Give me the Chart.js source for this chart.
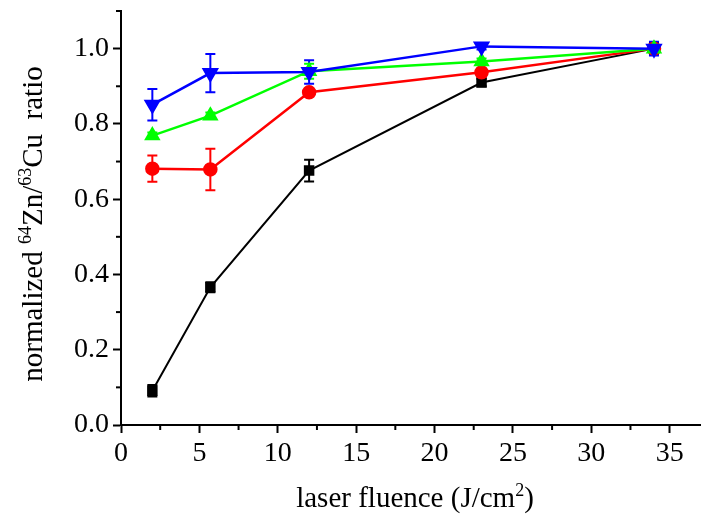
<!DOCTYPE html>
<html>
<head>
<meta charset="utf-8">
<script src="https://cdn.jsdelivr.net/npm/chart.js@4/dist/chart.umd.min.js"></script>
<style>
    html, body { margin: 0; padding: 0; background: #fff; }
    canvas { display: block; }
</style>
</head>
<body>
<canvas id="fluenceChart" width="701" height="521"></canvas>
<script>
// laser fluence (J/cm2)
const fluence = [2, 5.7, 12, 23, 34];

// normalized 64Zn/63Cu ratio, four series
const blackSeries = [0.091, 0.366, 0.676, 0.910, 1.0];
const blackErr = [0.015, 0.013, 0.029, 0.010, 0.015];
const redSeries = [0.681, 0.679, 0.884, 0.937, 1.0];
const redErr = [0.035, 0.055, 0.008, 0.008, 0.012];
const greenSeries = [0.769, 0.822, 0.940, 0.966, 1.0];
const greenErr = [0.008, 0.008, 0.020, 0.008, 0.012];
const blueSeries = [0.851, 0.935, 0.938, 1.006, 1.0];
const blueErr = [0.042, 0.051, 0.031, 0.008, 0.018];

const xTicks = [0, 5, 10, 15, 20, 25, 30, 35];
const yTicks = [0.0, 0.2, 0.4, 0.6, 0.8, 1.0];

const FONT = '"Liberation Serif", "Times New Roman", serif';
Chart.defaults.font.family = FONT;
Chart.defaults.font.size = 28;
Chart.defaults.color = '#000';

function toPoints(values) {
    return fluence.map((x, i) => ({ x: x, y: values[i] }));
}

function isMajorX(v) {
    return xTicks.some(t => Math.abs(t - v) < 1e-6);
}
function isMajorY(v) {
    return yTicks.some(t => Math.abs(t - v) < 1e-6);
}

// error bars, drawn under the markers
const errorBars = {
    id: 'errorBars',
    beforeDatasetsDraw(chart) {
        const ctx = chart.ctx;
        const xs = chart.scales.x, ys = chart.scales.y;
        chart.data.datasets.forEach(ds => {
            if (!ds.errors) return;
            ctx.save();
            ctx.strokeStyle = ds.borderColor;
            ctx.lineWidth = 2;
            ds.data.forEach((p, i) => {
                const e = ds.errors[i];
                const px = xs.getPixelForValue(p.x);
                const top = ys.getPixelForValue(p.y + e);
                const bot = ys.getPixelForValue(p.y - e);
                ctx.beginPath();
                ctx.moveTo(px, top); ctx.lineTo(px, bot);
                ctx.moveTo(px - 5, top); ctx.lineTo(px + 5, top);
                ctx.moveTo(px - 5, bot); ctx.lineTo(px + 5, bot);
                ctx.stroke();
            });
            ctx.restore();
        });
    }
};

// short minor ticks and the axis titles with superscripts
const axisExtras = {
    id: 'axisExtras',
    afterDraw(chart) {
        const ctx = chart.ctx;
        const xs = chart.scales.x, ys = chart.scales.y;
        const area = chart.chartArea;
        ctx.save();
        ctx.strokeStyle = '#000';
        ctx.lineWidth = 2;
        xs.ticks.forEach(t => {
            if (isMajorX(t.value)) return;
            const px = xs.getPixelForValue(t.value);
            ctx.beginPath();
            ctx.moveTo(px, area.bottom);
            ctx.lineTo(px, area.bottom + 5);
            ctx.stroke();
        });
        ys.ticks.forEach(t => {
            if (isMajorY(t.value)) return;
            const py = ys.getPixelForValue(t.value);
            ctx.beginPath();
            ctx.moveTo(area.left, py);
            ctx.lineTo(area.left - 5, py);
            ctx.stroke();
        });

        ctx.fillStyle = '#000';
        ctx.textBaseline = 'alphabetic';
        drawRichText(ctx, [
            ['laser fluence (J/cm', false], ['2', true], [')', false]
        ], 415, 507, 0);
        drawRichText(ctx, [
            ['normalized ', false], ['64', true], ['Zn/', false], ['63', true], ['Cu  ratio', false]
        ], 42, 224, -Math.PI / 2);
        ctx.restore();
    }
};

function drawRichText(ctx, parts, cx, baseline, angle) {
    const big = '29px ' + FONT, small = '18px ' + FONT;
    let total = 0;
    parts.forEach(([txt, sup]) => {
        ctx.font = sup ? small : big;
        total += ctx.measureText(txt).width;
    });
    ctx.save();
    ctx.translate(cx, baseline);
    ctx.rotate(angle);
    let x = -total / 2;
    parts.forEach(([txt, sup]) => {
        ctx.font = sup ? small : big;
        ctx.fillText(txt, x, sup ? -11 : 0);
        x += ctx.measureText(txt).width;
    });
    ctx.restore();
}

const ctx = document.getElementById('fluenceChart').getContext('2d');
new Chart(ctx, {
    type: 'line',
    data: {
        datasets: [{
            data: toPoints(blackSeries),
            errors: blackErr,
            order: 3,
            borderColor: '#000000',
            backgroundColor: '#000000',
            borderWidth: 2,
            pointStyle: 'rect',
            pointRadius: 6
        }, {
            data: toPoints(redSeries),
            errors: redErr,
            order: 2,
            borderColor: '#ff0000',
            backgroundColor: '#ff0000',
            borderWidth: 2.5,
            pointStyle: 'circle',
            pointRadius: 6
        }, {
            data: toPoints(greenSeries),
            errors: greenErr,
            order: 1,
            borderColor: '#00ff00',
            backgroundColor: '#00ff00',
            borderWidth: 2.5,
            pointStyle: 'triangle',
            pointRadius: 7
        }, {
            data: toPoints(blueSeries),
            errors: blueErr,
            order: 0,
            borderColor: '#0000ff',
            backgroundColor: '#0000ff',
            borderWidth: 2.5,
            pointStyle: 'triangle',
            pointRotation: 180,
            pointRadius: 7.5
        }]
    },
    options: {
        responsive: false,
        animation: false,
        devicePixelRatio: 1,
        clip: false,
        layout: { autoPadding: false, padding: { top: 11, right: 0, left: 0, bottom: 0 } },
        elements: {
            line: { tension: 0 },
            point: { borderWidth: 1, hoverRadius: 6 }
        },
        plugins: {
            legend: { display: false },
            tooltip: { enabled: false }
        },
        scales: {
            x: {
                type: 'linear',
                min: 0,
                max: 37,
                afterFit(scale) {
                    scale.height = 96;
                    scale.paddingLeft = 0;
                    scale.paddingRight = 0;
                },
                border: { color: '#000', width: 2 },
                grid: {
                    drawOnChartArea: false,
                    tickLength: 8,
                    tickWidth: 2,
                    tickColor: c => (c.tick && isMajorX(c.tick.value)) ? '#000' : 'rgba(0,0,0,0)'
                },
                ticks: {
                    stepSize: 2.5,
                    includeBounds: false,
                    maxRotation: 0,
                    autoSkip: false,
                    padding: 4,
                    callback: v => isMajorX(v) ? String(v) : ''
                }
            },
            y: {
                type: 'linear',
                min: 0,
                max: 1.1,
                afterFit(scale) {
                    scale.width = 121;
                    scale.paddingTop = 0;
                    scale.paddingBottom = 0;
                },
                border: { color: '#000', width: 2 },
                grid: {
                    drawOnChartArea: false,
                    tickLength: 8,
                    tickWidth: 2,
                    tickColor: c => (c.tick && isMajorY(c.tick.value)) ? '#000' : 'rgba(0,0,0,0)'
                },
                ticks: {
                    stepSize: 0.1,
                    autoSkip: false,
                    padding: 4,
                    callback: v => isMajorY(v) ? v.toFixed(1) : ''
                }
            }
        }
    },
    plugins: [errorBars, axisExtras]
});
</script>
</body>
</html>
